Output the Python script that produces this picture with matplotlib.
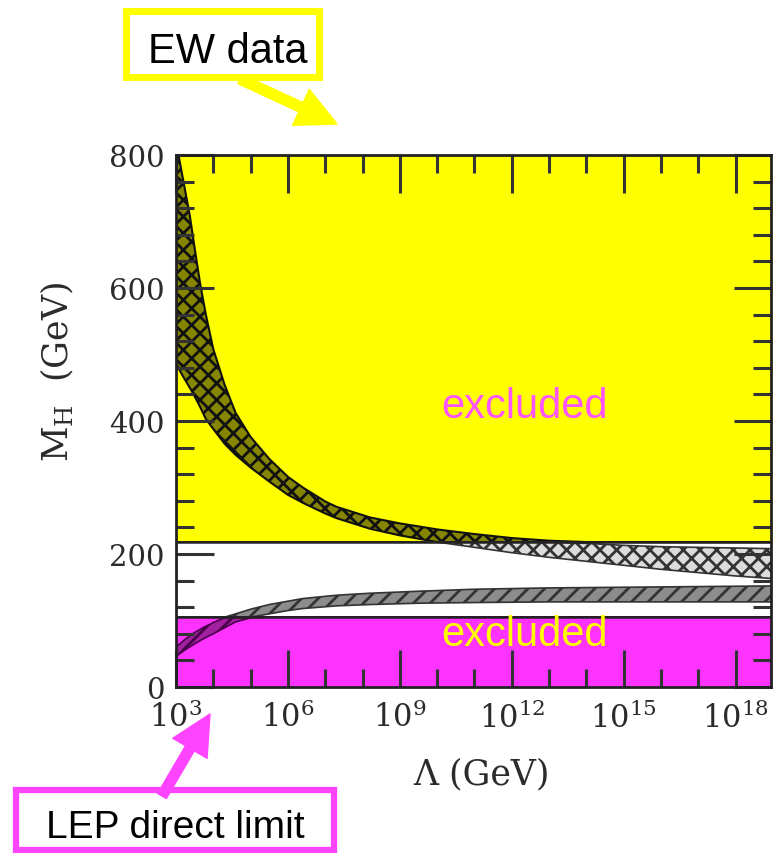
import numpy as np
import matplotlib
matplotlib.use('Agg')
import matplotlib.pyplot as plt
from matplotlib.patches import Rectangle, FancyArrowPatch
from matplotlib.ticker import FixedLocator, LogLocator, MultipleLocator, NullFormatter

# --- data ---
ew_limit = 218     # EW data excluded above this M_H (GeV)
lep_limit = 105    # LEP direct limit, excluded below (GeV)
mh_max = 800

# upper (triviality) band, log10(Lambda/GeV) -> M_H edges
log_lam_triv = [3.00, 3.10, 3.20, 3.37, 3.50, 3.64, 3.80, 4.00, 4.30, 4.60, 5.00, 5.50,
                6.00, 6.40, 7.00, 7.30, 8.20, 9.00, 10.0, 11.0, 12.0, 13.0, 14.0, 15.0,
                16.0, 17.0, 18.0, 19.0]
triv_hi = [820, 790, 760, 709, 660, 609, 560, 508, 455, 412, 376, 343,
           316, 300, 279, 271, 255, 246, 237, 230, 224, 220, 216, 213,
           211, 210, 209, 208]
triv_lo = [488, 476, 466, 450, 437, 422, 403, 388, 366, 349, 330, 309,
           289, 277, 261, 254, 238, 228, 218, 210, 202, 195, 189, 183,
           177, 172, 167, 163]

# lower (vacuum stability) band
log_lam_stab = [3.00, 3.25, 3.50, 3.75, 4.00, 4.30, 4.60, 5.00, 5.50, 6.00, 6.40,
                7.30, 8.20, 9.50, 11.0, 13.0, 15.0, 17.0, 19.0]
stab_hi = [60, 72, 82, 90, 97, 104, 110, 117, 124, 129, 133, 138, 141, 144, 147, 149, 150, 151, 152]
stab_lo = [46, 56, 65, 73, 80, 89, 98, 104, 110, 115, 118, 122, 124, 126, 127, 128, 128, 128, 128]

lam_ticks = [1e3, 1e6, 1e9, 1e12, 1e15, 1e18]
lam_labels = [r'$10^{3}$', r'$10^{6}$', r'$10^{9}$', r'$10^{12}$', r'$10^{15}$', r'$10^{18}$']
mh_ticks = [0, 200, 400, 600, 800]

# --- figure ---
plt.rcParams['mathtext.fontset'] = 'dejavuserif'
plt.rcParams['font.family'] = 'DejaVu Serif'
plt.rcParams['hatch.linewidth'] = 2.0

W, H = 773, 854
def fx(px):
    return px / W
def fy(py):
    return 1 - py / H

fig = plt.figure(figsize=(W / 100, H / 100), dpi=100)
ax = fig.add_axes([fx(176), fy(688), 595 / W, 532 / H])
ax.set_xscale('log')
ax.set_xlim(1e3, 10 ** 18.95)
ax.set_ylim(0, mh_max)

# excluded regions
ax.axhspan(ew_limit, mh_max, facecolor='#ffff00', edgecolor='none', zorder=0.5)
ax.axhspan(0, lep_limit, facecolor='#ff33ff', edgecolor='none', zorder=0.5)
ax.axhline(ew_limit, color='#222222', lw=1.8, zorder=1.8)
ax.axhline(lep_limit, color='#222222', lw=1.8, zorder=1.8)

# triviality band, split at the EW line
lam_t = 10 ** np.array(log_lam_triv)
hi = np.array(triv_hi, dtype=float)
lo = np.array(triv_lo, dtype=float)
with plt.rc_context({'hatch.color': '#111111'}):
    ax.fill_between(lam_t, np.maximum(lo, ew_limit), np.maximum(hi, ew_limit),
                    facecolor='#858500', edgecolor='#111111', hatch='xx', lw=1.5, zorder=1.5)
    ax.fill_between(lam_t, np.minimum(lo, ew_limit), np.minimum(hi, ew_limit),
                    facecolor='#dcdcdc', edgecolor='#333333', hatch='xx', lw=1.2, zorder=1.5)

# stability band, split at the LEP line
lam_s = 10 ** np.array(log_lam_stab)
hi_s = np.array(stab_hi, dtype=float)
lo_s = np.array(stab_lo, dtype=float)
with plt.rc_context({'hatch.color': '#333333'}):
    ax.fill_between(lam_s, np.maximum(lo_s, lep_limit), np.maximum(hi_s, lep_limit),
                    facecolor='#8c8c8c', edgecolor='#333333', hatch='//', lw=1.2, zorder=1.5)
with plt.rc_context({'hatch.color': '#4a004a'}):
    ax.fill_between(lam_s, np.minimum(lo_s, lep_limit), np.minimum(hi_s, lep_limit),
                    facecolor='#a020a0', edgecolor='#4a004a', hatch='//', lw=1.2, zorder=1.5)

ax.text(10 ** 12.33, 406, 'excluded', color='#ff55ff', fontsize=30,
        family='Liberation Sans', ha='center', va='baseline', zorder=3)
ax.text(10 ** 12.33, 63, 'excluded', color='#ffff00', fontsize=30,
        family='Liberation Sans', ha='center', va='baseline', zorder=3)

# axes and ticks
ax.xaxis.set_major_locator(FixedLocator(lam_ticks))
ax.set_xticklabels(lam_labels)
ax.xaxis.set_minor_locator(LogLocator(base=10, subs=(1.0,), numticks=40))
ax.xaxis.set_minor_formatter(NullFormatter())
ax.set_yticks(mh_ticks)
ax.yaxis.set_minor_locator(MultipleLocator(40))
ax.tick_params(which='both', direction='in', top=True, right=True,
               width=2.2, color='#333333', labelcolor='#2b2b2b')
ax.tick_params(which='major', length=27)
ax.tick_params(which='minor', length=13)
ax.tick_params(axis='x', labelsize=22, pad=10)
ax.tick_params(axis='y', labelsize=21, pad=8)
for sp in ax.spines.values():
    sp.set_linewidth(2)
    sp.set_color('#222222')

ax.set_xlabel('Λ (GeV)', fontsize=25, color='#2b2b2b')
ax.set_ylabel(r'M$_{\rm H}$  (GeV)', fontsize=25, color='#2b2b2b')
ax.xaxis.set_label_coords(0.513, -0.130)
ax.yaxis.set_label_coords(-0.168, 0.594)

# annotation boxes and arrows
fig.add_artist(Rectangle((fx(126.5), fy(77.5)), 193 / W, 66 / H, transform=fig.transFigure,
                         facecolor='white', edgecolor='#ffff00', lw=5))
fig.text(fx(228), fy(63), 'EW data', fontsize=30, family='Liberation Sans',
         color='black', ha='center', va='baseline')
fig.add_artist(FancyArrowPatch((fx(240), fy(80)), (fx(337), fy(125)), transform=fig.transFigure,
                               arrowstyle='simple,head_length=1.1,head_width=1.1,tail_width=0.28',
                               mutation_scale=26, color='#ffff00', shrinkA=0, shrinkB=0))

fig.add_artist(Rectangle((fx(16), fy(851)), 318 / W, 60 / H, transform=fig.transFigure,
                         facecolor='white', edgecolor='#ff44ff', lw=4.5))
fig.text(fx(175), fy(838), 'LEP direct limit', fontsize=28, family='Liberation Sans',
         color='black', ha='center', va='baseline')
fig.add_artist(FancyArrowPatch((fx(162), fy(797)), (fx(210), fy(715)), transform=fig.transFigure,
                               arrowstyle='simple,head_length=1.1,head_width=1.1,tail_width=0.28',
                               mutation_scale=26, color='#ff44ff', shrinkA=0, shrinkB=0))

fig.savefig('out.png', dpi=100)
